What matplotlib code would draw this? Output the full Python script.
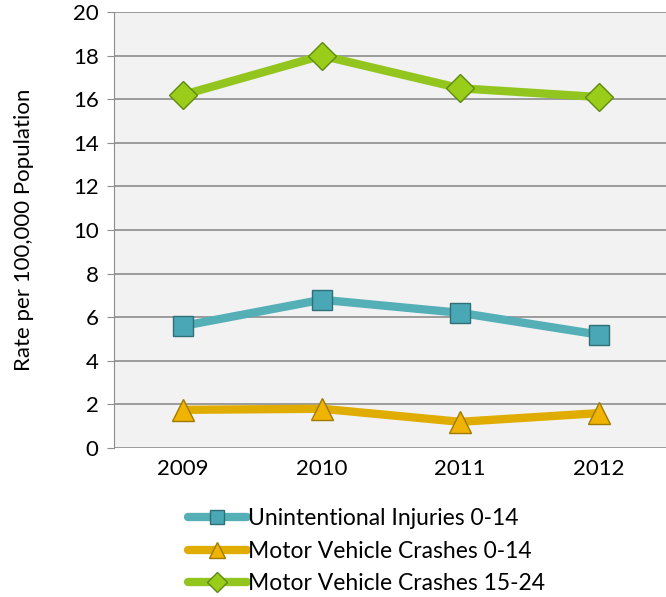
import matplotlib
matplotlib.use("Agg")
import matplotlib.pyplot as plt

years = ["2009", "2010", "2011", "2012"]
unintentional_0_14 = [5.6, 6.8, 6.2, 5.2]
mvc_0_14 = [1.75, 1.8, 1.2, 1.6]
mvc_15_24 = [16.2, 18.0, 16.5, 16.1]
series_names = ["Unintentional Injuries 0-14", "Motor Vehicle Crashes 0-14", "Motor Vehicle Crashes 15-24"]

plt.rcParams['font.family'] = ['Lato', 'DejaVu Sans']

fig = plt.figure(figsize=(6.66, 5.97), dpi=100)
ax = fig.add_axes([0.171, 0.2496, 0.832, 0.7303])
ax.set_facecolor('#F2F2F2')

x = range(len(years))
styles = [
    (unintentional_0_14, '#55AFB7', 's', 14, '#4AA7B5', '#2F6F78'),
    (mvc_0_14, '#E0AC00', '^', 16, '#F0B400', '#A07A00'),
    (mvc_15_24, '#92C51E', 'D', 14, '#9ACD1A', '#5E8A10'),
]
handles = []
for (vals, lc, m, ms, mfc, mec), name in zip(styles, series_names):
    h, = ax.plot(x, vals, color=lc, lw=6, marker=m, markersize=ms,
                 markerfacecolor=mfc, markeredgecolor=mec, markeredgewidth=1,
                 solid_capstyle='round', label=name, zorder=3)
    handles.append(h)

ax.set_xlim(-0.5, 3.5)
ax.set_ylim(0, 20)
ax.set_yticks(range(0, 21, 2))
ax.set_xticks(list(x))
ax.set_xticklabels(years)
ax.grid(axis='y', color='#8C8C8C', lw=1.2)
ax.set_axisbelow(True)
for s in ['top', 'right', 'bottom']:
    ax.spines[s].set_visible(False)
ax.spines['left'].set_color('#8C8C8C')
ax.tick_params(axis='y', labelsize=16, length=5, color='#8C8C8C', pad=6)
ax.tick_params(axis='x', labelsize=16, length=0, pad=8)
ax.set_ylabel('Rate per 100,000 Population', fontsize=16, labelpad=28)

leg = fig.legend(handles=handles, loc='upper left', bbox_to_anchor=(0.268, 0.165),
                 frameon=False, fontsize=16.5, handlelength=2.6, handletextpad=0.05,
                 labelspacing=0.52, borderaxespad=0, markerscale=0.75)

fig.savefig('out.png', dpi=100)
